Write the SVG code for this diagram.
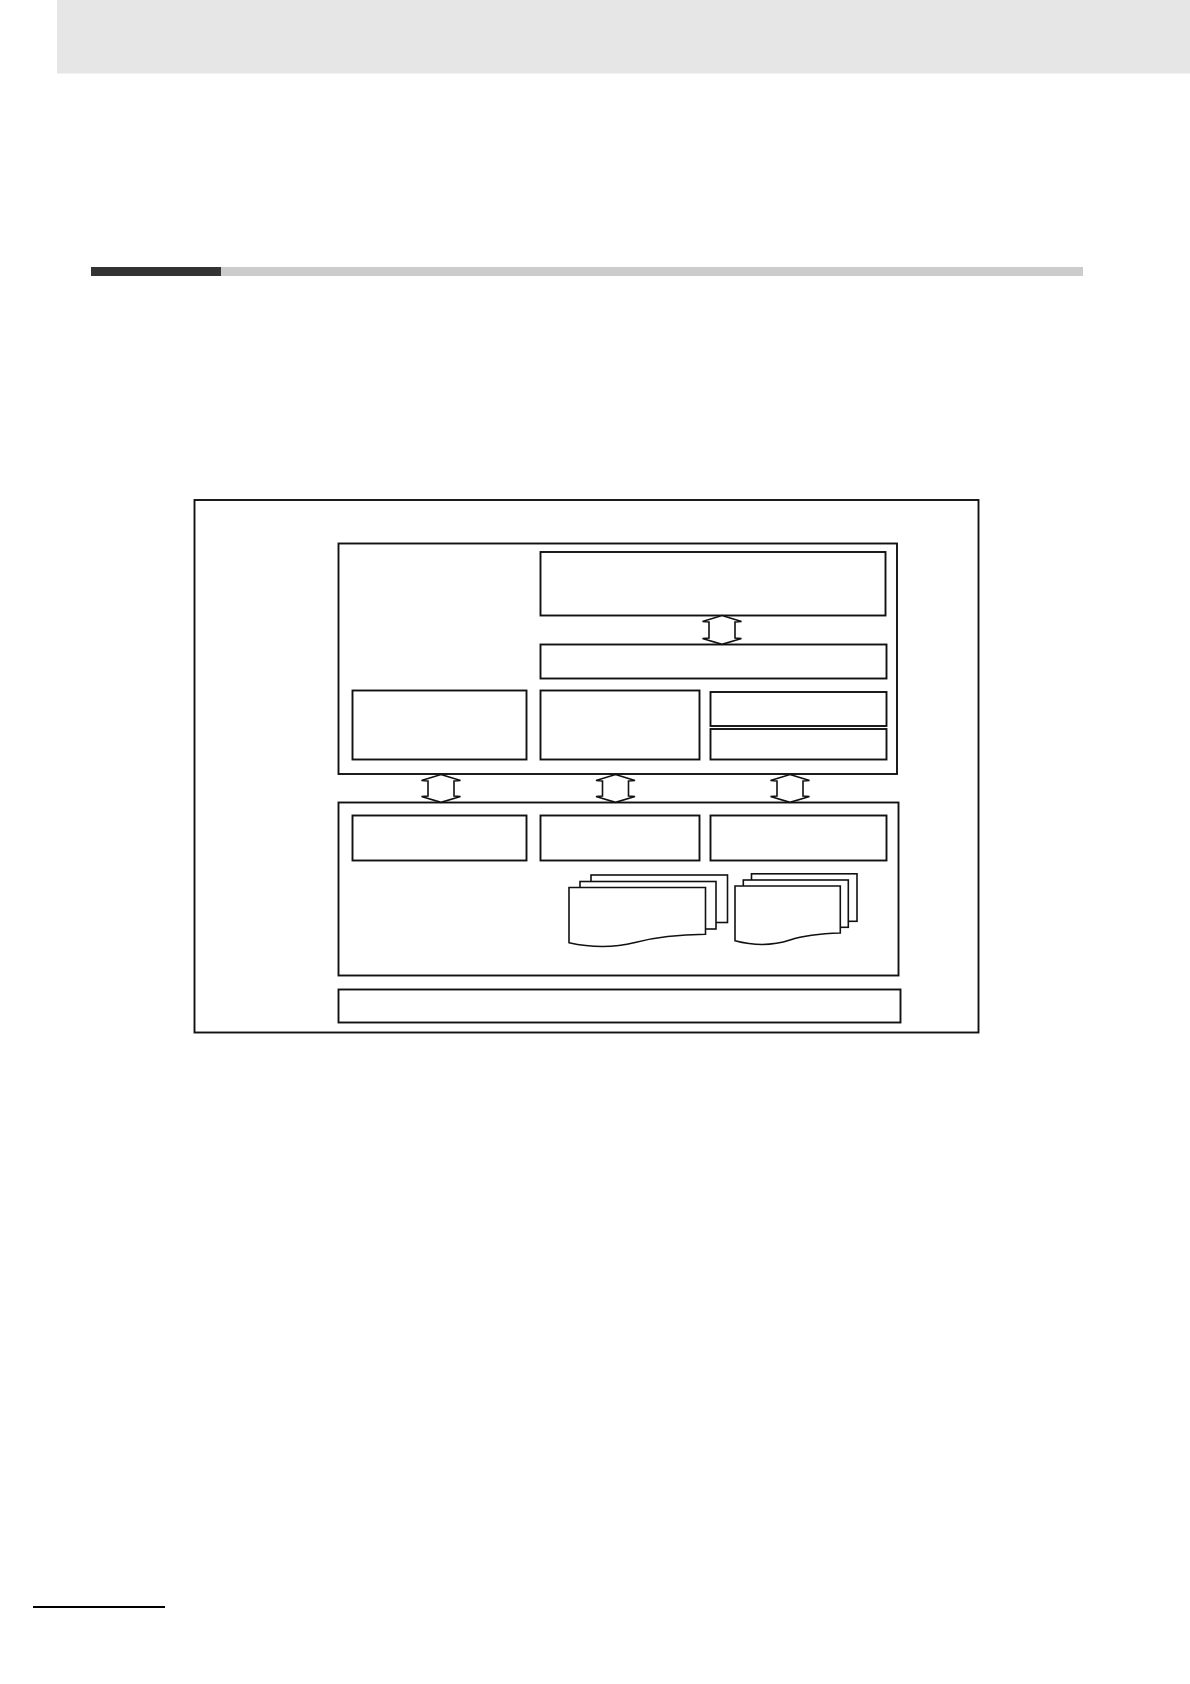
<svg xmlns="http://www.w3.org/2000/svg" width="1190" height="1684" viewBox="0 0 1190 1684">
  <style>
    .box { fill: #ffffff; stroke: #111111; stroke-width: 1.9; }
    .arr { fill: #ffffff; stroke: #111111; stroke-width: 1.6; stroke-linejoin: miter; }
    .sheet { fill: #ffffff; stroke: #111111; stroke-width: 1.6; }
  </style>
  <rect x="0" y="0" width="1190" height="1684" fill="#ffffff"/>
  <g id="page-header">
    <rect x="57" y="0" width="1133" height="73.5" fill="#e6e6e6"/>
  </g>
  <g id="section-bar">
    <rect x="221" y="267" width="862" height="9" fill="#cccccc"/>
    <rect x="91" y="267" width="130" height="9" fill="#333333"/>
  </g>
  <g id="outer-frame">
    <rect class="box" x="194.5" y="500" width="784" height="532.5"/>
  </g>
  <g id="upper-block">
    <rect class="box" x="338.5" y="543.5" width="558.5" height="230.5"/>
  </g>
  <g id="upper-top-right">
    <rect class="box" x="540.5" y="552" width="345" height="63.5"/>
  </g>
  <g id="upper-mid-right">
    <rect class="box" x="540.5" y="644.5" width="346" height="34"/>
  </g>
  <g id="upper-bottom-left">
    <rect class="box" x="352.5" y="690.5" width="174" height="69"/>
  </g>
  <g id="upper-bottom-middle">
    <rect class="box" x="540.5" y="690.5" width="159" height="69"/>
  </g>
  <g id="upper-bottom-right-a">
    <rect class="box" x="710.5" y="692" width="176" height="34"/>
  </g>
  <g id="upper-bottom-right-b">
    <rect class="box" x="710.5" y="729" width="176" height="30.5"/>
  </g>
  <g id="lower-block">
    <rect class="box" x="338.5" y="802.5" width="560" height="173"/>
  </g>
  <g id="lower-left">
    <rect class="box" x="352.5" y="815.5" width="174" height="45"/>
  </g>
  <g id="lower-middle">
    <rect class="box" x="540.5" y="815.5" width="159" height="45"/>
  </g>
  <g id="lower-right">
    <rect class="box" x="710.5" y="815.5" width="176" height="45"/>
  </g>
  <g id="doc-stack-1">
    <rect class="sheet" x="591" y="875" width="136.5" height="47.5"/>
    <rect class="sheet" x="580" y="881.5" width="136" height="47.5"/>
    <path class="sheet" d="M569,887.5 L705.5,887.5 L705.5,934.3 C685,934.5 660,936 635,942.5 C615,947.5 595,948.5 569,942.7 Z"/>
  </g>
  <g id="doc-stack-2">
    <rect class="sheet" x="751.5" y="873.8" width="105.5" height="47.5"/>
    <rect class="sheet" x="743.3" y="880" width="105" height="47.3"/>
    <path class="sheet" d="M735,886 L840.3,886 L840.3,933 C823,933.5 805,935 790,940 C775,945 757,946.5 735,940.7 Z"/>
  </g>
  <g id="bottom-bar">
    <rect class="box" x="338.5" y="989.5" width="562" height="33"/>
  </g>
  <g id="connectors">
    <path class="arr" d="M722,615.5 L741.5,621.5 L735,622 L735,638 L741.5,638.5 L722,644.3 L702.5,638.5 L709,638 L709,622 L702.5,621.5 Z"/>
    <path class="arr" d="M441,774.5 L460.5,780.5 L454,781 L454,796 L460.5,796.5 L441,802.3 L421.5,796.5 L428,796 L428,781 L421.5,780.5 Z"/>
    <path class="arr" d="M615.5,774.5 L635,780.5 L628.5,781 L628.5,796 L635,796.5 L615.5,802.3 L596,796.5 L602.5,796 L602.5,781 L596,780.5 Z"/>
    <path class="arr" d="M790,774.5 L809.5,780.5 L803,781 L803,796 L809.5,796.5 L790,802.3 L770.5,796.5 L777,796 L777,781 L770.5,780.5 Z"/>
  </g>
  <g id="footer-rule">
    <line x1="33" y1="1607" x2="165" y2="1607" stroke="#000000" stroke-width="1.8"/>
  </g>
</svg>
